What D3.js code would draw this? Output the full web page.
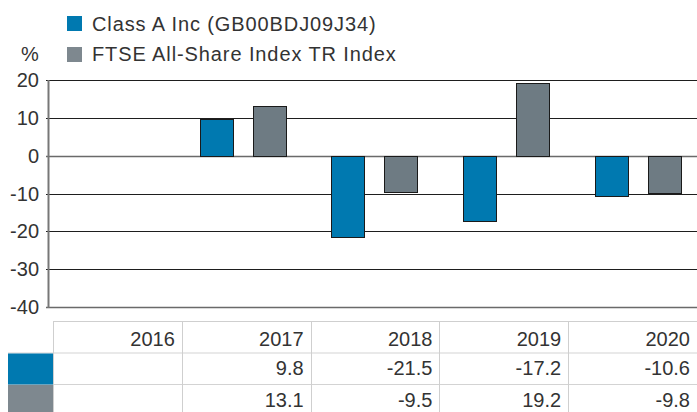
<!DOCTYPE html>
<html>
<head>
<meta charset="utf-8">
<script src="https://cdn.jsdelivr.net/npm/d3@7"></script>
<style>
  html, body { margin: 0; padding: 0; background: #fff; }
  svg { display: block; font-family: "Liberation Sans", Arial, sans-serif; }
  text { fill: #333; }
</style>
</head>
<body>
<div id="chart"></div>
<script>
// data
const years = ["2016", "2017", "2018", "2019", "2020"];
const seriesNames = ["Class A Inc (GB00BDJ09J34)", "FTSE All-Share Index TR Index"];
const classA = [null, 9.8, -21.5, -17.2, -10.6];
const ftse = [null, 13.1, -9.5, 19.2, -9.8];
const yTicks = [20, 10, 0, -10, -20, -30, -40];

const W = 697, H = 412;
const BLUE = "#0079b0", GREY = "#6e7b83", GREY_SW = "#7e888f";
const colors = [BLUE, GREY];

const svg = d3.select("#chart").append("svg").attr("width", W).attr("height", H);

// scales
const y = d3.scaleLinear().domain([-40, 20]).range([307, 80]);
const x0 = d3.scaleBand().domain(years).range([45, 704]).padding(0);
const x1 = d3.scaleBand().domain([0, 1]).range([0, x0.bandwidth()])
  .paddingInner(0.377).paddingOuter(0.432);

// legend
const leg = svg.append("g");
seriesNames.forEach((name, i) => {
  leg.append("rect").attr("x", 67).attr("y", 16 + i * 31).attr("width", 15).attr("height", 15)
    .attr("fill", i === 0 ? BLUE : GREY_SW);
  leg.append("text").attr("x", 92).attr("y", 31 + i * 30).attr("font-size", 20)
    .attr("letter-spacing", 0.9).text(name);
});
svg.append("text").attr("x", 21).attr("y", 61).attr("font-size", 20).text("%");

// gridlines
svg.append("g").selectAll("line").data(yTicks).join("line")
  .attr("x1", 46).attr("x2", W)
  .attr("y1", (d) => Math.round(y(d)) + 0.5).attr("y2", (d) => Math.round(y(d)) + 0.5)
  .attr("stroke", (d) => (d === 0 || d === -40 ? "#6a6a6a" : "#1e1e1e"))
  .attr("stroke-width", (d) => (d === 0 || d === -40 ? 1.6 : 1.1));

// y axis
svg.append("line").attr("x1", 48.5).attr("x2", 48.5).attr("y1", y(20)).attr("y2", y(-40) + 1)
  .attr("stroke", "#777").attr("stroke-width", 2);
svg.append("g").selectAll("text").data(yTicks).join("text")
  .attr("x", 39).attr("y", (d) => y(d) + 7).attr("text-anchor", "end").attr("font-size", 20)
  .text((d) => d);

// bars
const rows = years.map((yr, i) => ({ year: yr, vals: [classA[i], ftse[i]] }));
const gBars = svg.append("g");
rows.forEach((r) => {
  r.vals.forEach((v, s) => {
    if (v == null) return;
    gBars.append("rect")
      .attr("x", Math.round(x0(r.year) + x1(s)) + 0.5)
      .attr("y", Math.round(y(Math.max(0, v))) + 0.5)
      .attr("width", Math.round(x1.bandwidth()))
      .attr("height", Math.round(Math.abs(y(v) - y(0))))
      .attr("fill", colors[s]).attr("stroke", "#1a1a1a").attr("stroke-width", 1);
  });
});

// data table
const tx = d3.scaleBand().domain(years).range([53, 697]);
const tTop = 321.5, rowH = 31.5;
const gT = svg.append("g");
gT.append("line").attr("x1", 53).attr("x2", W).attr("y1", tTop).attr("y2", tTop).attr("stroke", "#cfcfcf");
[1, 2].forEach((k) => {
  gT.append("line").attr("x1", 8).attr("x2", W)
    .attr("y1", tTop + k * rowH).attr("y2", tTop + k * rowH).attr("stroke", "#d3d3d3");
});
years.forEach((yr) => {
  const xl = Math.round(tx(yr)) + 0.5;
  gT.append("line").attr("x1", xl).attr("x2", xl).attr("y1", tTop).attr("y2", H).attr("stroke", "#cfcfcf");
});
// series swatches in first column
colors.forEach((c, s) => {
  gT.append("rect").attr("x", 8).attr("y", tTop + (s + 1) * rowH + 0.5)
    .attr("width", 45).attr("height", rowH - 0.5).attr("fill", s === 0 ? BLUE : GREY_SW);
});
gT.selectAll("text.hdr").data(years).join("text").attr("class", "hdr")
  .attr("x", (d) => tx(d) + tx.bandwidth() - 7).attr("y", 346)
  .attr("text-anchor", "end").attr("font-size", 20).text((d) => d);
[classA, ftse].forEach((vals, s) => {
  gT.selectAll("text.v" + s).data(years).join("text").attr("class", "v" + s)
    .attr("x", (d) => tx(d) + tx.bandwidth() - 7).attr("y", 375 + s * 32)
    .attr("text-anchor", "end").attr("font-size", 20)
    .text((d, i) => (vals[i] == null ? "" : vals[i].toFixed(1)));
});
</script>
</body>
</html>
